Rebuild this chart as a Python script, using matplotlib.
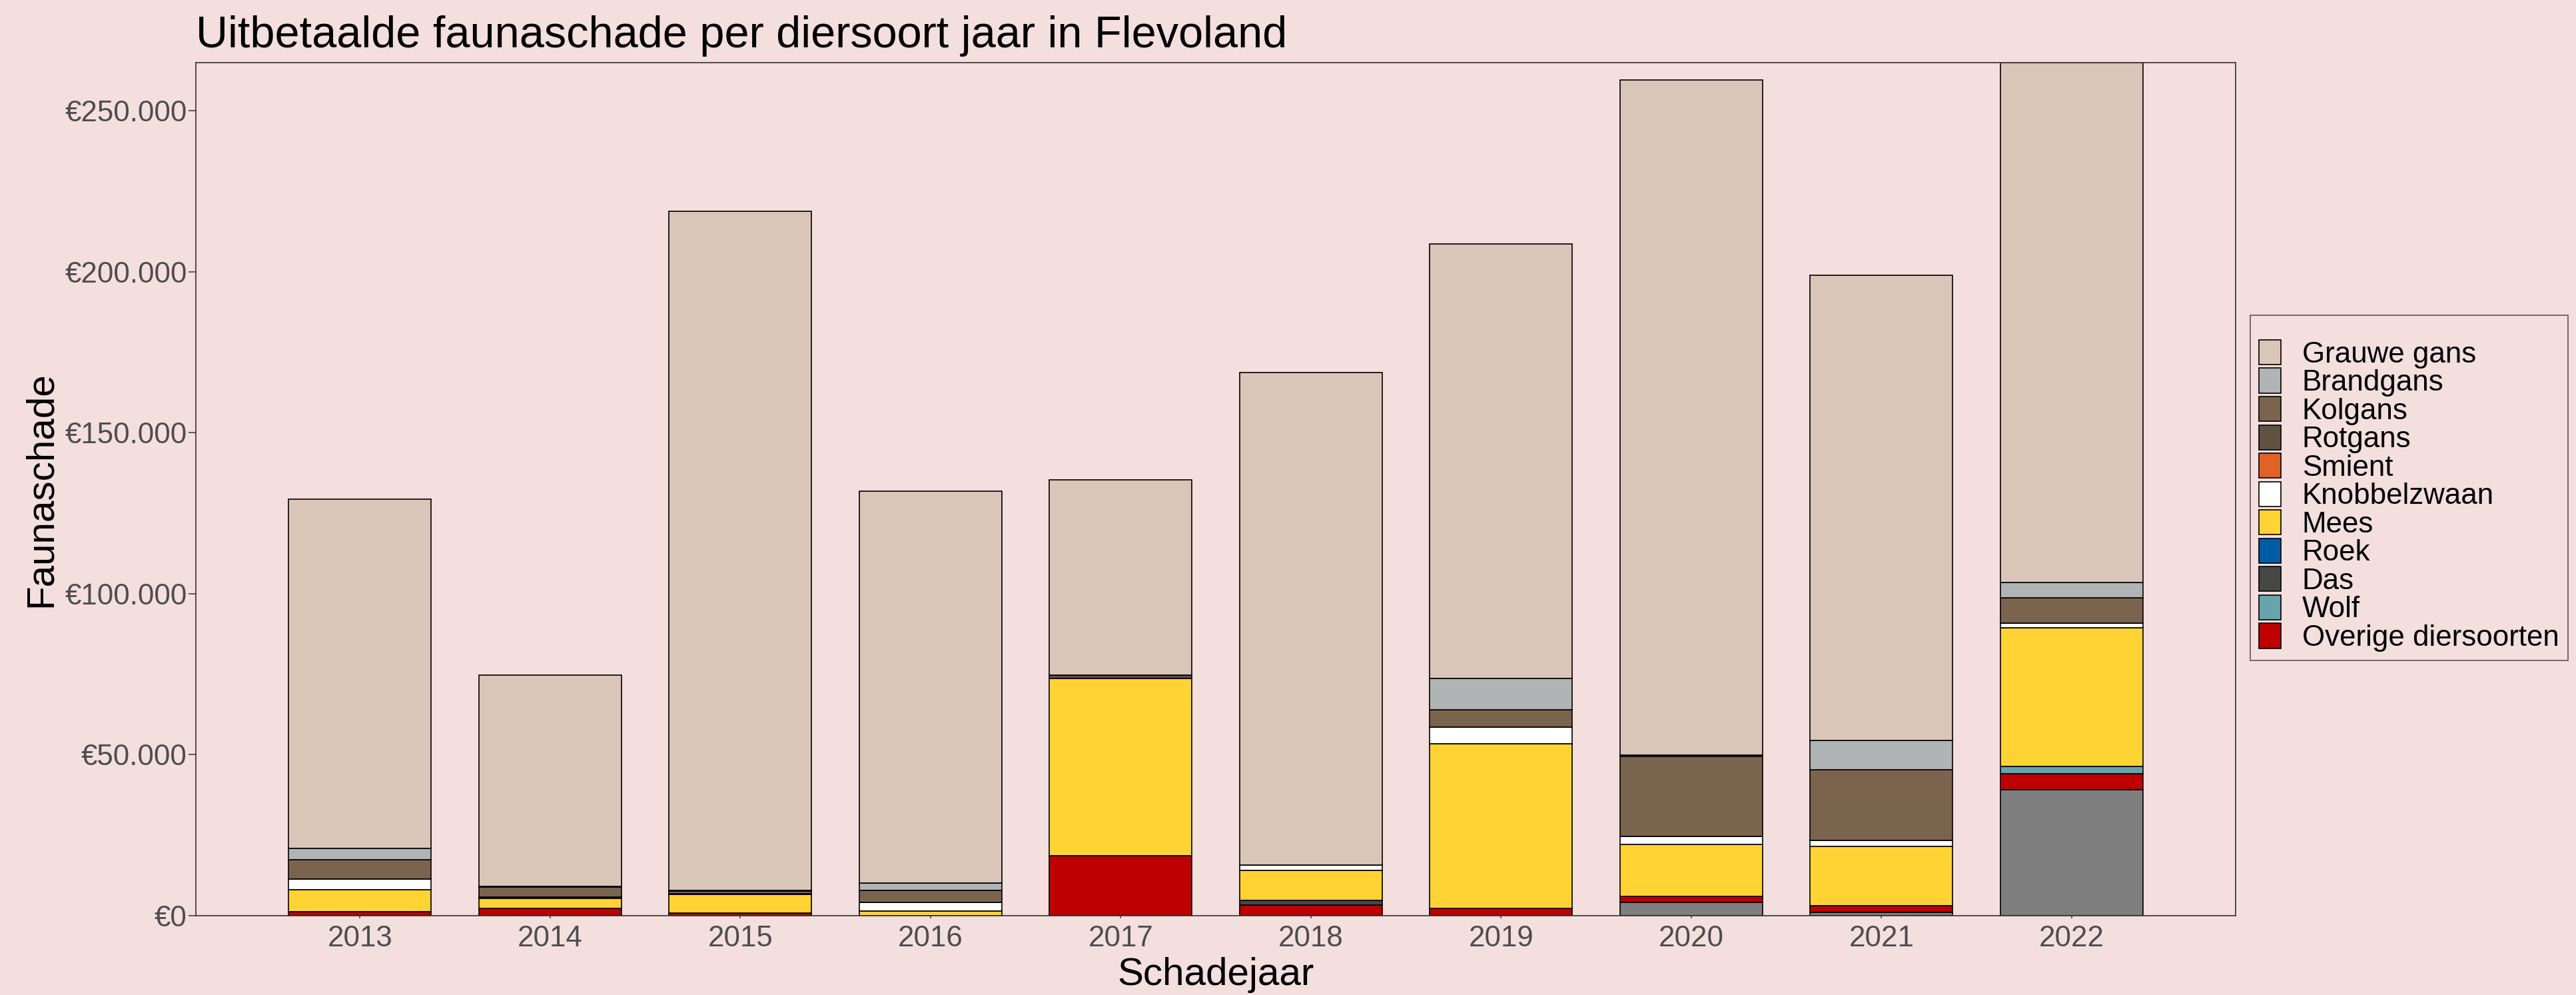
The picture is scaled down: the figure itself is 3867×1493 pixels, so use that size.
import matplotlib
matplotlib.use("Agg")
import matplotlib.pyplot as plt
from matplotlib.ticker import FuncFormatter, FixedLocator
import numpy as np

plt.rcParams['font.family'] = ['Liberation Sans', 'DejaVu Sans']

years = [2013, 2014, 2015, 2016, 2017, 2018, 2019, 2020, 2021, 2022]

# legend order (top of stack first)
species = ["Grauwe gans", "Brandgans", "Kolgans", "Rotgans", "Smient",
           "Knobbelzwaan", "Mees", "Roek", "Das", "Wolf", "Overige diersoorten"]

grauwe_gans  = [108480, 65600, 210850, 121850, 60550, 152970, 134980, 209790, 144510, 161420]
brandgans    = [3440, 400, 300, 2140, 0, 0, 9560, 350, 9030, 4750]
kolgans      = [5940, 2930, 700, 3720, 0, 0, 5530, 25010, 22050, 7970]
rotgans      = [0, 500, 300, 0, 1100, 0, 0, 0, 0, 0]
smient       = [0, 0, 0, 0, 0, 0, 0, 0, 0, 0]
knobbelzwaan = [3460, 0, 0, 2640, 0, 1740, 5180, 2480, 1720, 1370]
mees         = [6760, 3110, 5740, 1550, 55110, 9330, 51090, 16020, 18500, 43140]
roek         = [0, 0, 0, 0, 0, 0, 0, 0, 0, 0]
das          = [0, 0, 0, 0, 0, 1370, 0, 0, 0, 0]
wolf         = [0, 0, 0, 0, 0, 0, 0, 0, 0, 2200]
overige      = [1220, 2260, 870, 0, 18630, 3290, 2260, 1860, 2090, 5110]
onbekend     = [0, 0, 0, 0, 0, 0, 0, 4190, 1000, 39040]   # grey, not in legend

colors = {
    "Grauwe gans": "#D9C6B9",
    "Brandgans": "#B1B4B5",
    "Kolgans": "#7B644E",
    "Rotgans": "#615140",
    "Smient": "#E06325",
    "Knobbelzwaan": "#FFFFFF",
    "Mees": "#FFD333",
    "Roek": "#005DA5",
    "Das": "#464846",
    "Wolf": "#67A3AC",
    "Overige diersoorten": "#BE0000",
}
values = {
    "Grauwe gans": grauwe_gans, "Brandgans": brandgans, "Kolgans": kolgans,
    "Rotgans": rotgans, "Smient": smient, "Knobbelzwaan": knobbelzwaan,
    "Mees": mees, "Roek": roek, "Das": das, "Wolf": wolf,
    "Overige diersoorten": overige,
}

BG = "#F3DFDD"
fig = plt.figure(figsize=(38.67, 14.93), dpi=100, facecolor=BG)
ax = fig.add_axes([294/3867, 1-1374/1493, (3356-294)/3867, (1374-94)/1493])
ax.set_facecolor(BG)

x = np.array(years, dtype=float)
bottom = np.zeros(len(years))
# NA (grey) stack at the bottom
ax.bar(x, onbekend, width=0.75, bottom=bottom, color="#7F7F7F",
       edgecolor="black", linewidth=1.2)
bottom += np.array(onbekend)
handles = {}
for sp in reversed(species):
    v = np.array(values[sp], dtype=float)
    b = ax.bar(x, v, width=0.75, bottom=bottom, color=colors[sp],
               edgecolor="black", linewidth=1.2, label=sp)
    handles[sp] = b
    bottom += v

total_max = bottom.max()
ax.set_ylim(0, total_max)
ax.set_xlim(2013 - 0.8625, 2022 + 0.8625)

ax.xaxis.set_major_locator(FixedLocator(years))
ax.set_xticklabels([str(y) for y in years])
ax.yaxis.set_major_locator(FixedLocator([0, 50000, 100000, 150000, 200000, 250000]))
ax.yaxis.set_major_formatter(FuncFormatter(lambda v, p: "€" + f"{int(v):,}".replace(",", ".")))

ax.tick_params(axis='both', colors="#333333", labelcolor="#4D4D4D", labelsize=31.6, width=1.1)
ax.tick_params(axis='y', length=7.7, pad=1.8)
ax.tick_params(axis='x', length=3.2, pad=7)
for s in ax.spines.values():
    s.set_color("#333333")
    s.set_linewidth(1.2)

ax.set_xlabel("Schadejaar", fontsize=42, va='baseline')
ax.xaxis.set_label_coords(0.5, -0.0813)
ax.set_ylabel("Faunaschade", fontsize=42, va='center')
ax.yaxis.set_label_coords(-0.0758, 0.5)

fig.text(294/3867, 1-71/1493, "Uitbetaalde faunaschade per diersoort jaar in Flevoland",
         fontsize=48, ha='left', va='baseline', color='black')

leg = fig.legend([handles[s] for s in species], species,
                 loc='upper left', bbox_to_anchor=(3378/3867, 1-473/1493),
                 fontsize=31.6, frameon=True, fancybox=False,
                 handlelength=0.75, handleheight=0.93, handletextpad=0.72,
                 labelspacing=-0.005, borderpad=0.3, borderaxespad=0,
                 title=" ", title_fontsize=18)
leg.get_frame().set_facecolor(BG)
leg.get_frame().set_edgecolor("#333333")
leg.get_frame().set_linewidth(1.2)

fig.savefig("out.png", dpi=100, facecolor=BG)
